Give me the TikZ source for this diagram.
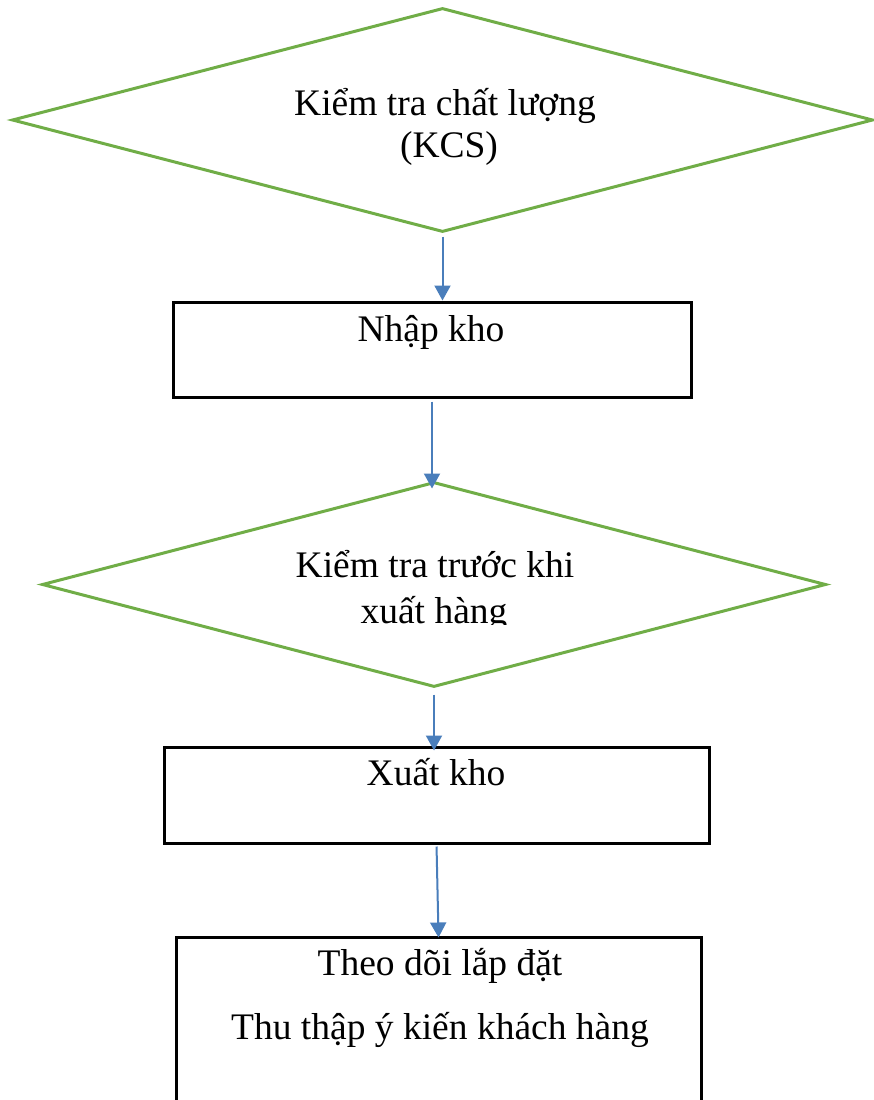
\documentclass[tikz,border=0pt]{standalone}
\usepackage{fontspec}
\setmainfont{Liberation Serif}
\usepackage{tikz}
\usetikzlibrary{shapes.geometric}
\usetikzlibrary{positioning}
\usetikzlibrary{arrows.meta}
\definecolor{kgreen}{HTML}{70AD47}
\definecolor{kblue}{HTML}{4A7EBB}

\begin{document}
\begin{tikzpicture}[x=1pt, y=-1pt, >={Triangle[length=15pt,width=16pt]},
        check/.style={diamond, draw=kgreen, line width=3pt, inner sep=0pt},
        block/.style={rectangle, draw=black, line width=3pt},
        txt/.style={anchor=base, inner sep=0pt, font=\fontsize{37.5}{46}\selectfont},
        flow/.style={->, draw=kblue, line width=2pt}]
        \clip (0,0) rectangle (874,1100);

        \node[check, minimum width=861pt, minimum height=224pt] (kcs) at (442.5,120) {};
        \node[block, minimum width=518pt, minimum height=95pt] (nhapkho) at (432,349.5) {};
        \node[check, minimum width=784pt, minimum height=205pt] (ktxh) at (434,584.5) {};
        \node[block, minimum width=545pt, minimum height=96pt] (xuatkho) at (436.5,795) {};
        \node[block, minimum width=525pt, minimum height=200pt] (theodoi) at (438.5,1037) {};

        \node[txt] (kcs1) at (445,115) {Kiểm tra chất lượng};
        \node[txt] (kcs2) at (449,157) {(KCS)};
        \node[txt] (nhapkhot) at (431,341) {Nhập kho};
        \begin{scope}
            \clip (0,480) rectangle (874,624);
            \node[txt] (ktxh1) at (435,577) {Kiểm tra trước khi};
            \node[txt] (ktxh2) at (434,623) {xuất hàng};
        \end{scope}
        \node[txt] (xuatkhot) at (436,785) {Xuất kho};
        \node[txt] (theodoi1) at (440,975) {Theo dõi lắp đặt};
        \node[txt] (theodoi2) at (440,1039) {Thu thập ý kiến khách hàng};

        \draw[flow, shorten <=3pt] (kcs.south) -- (kcs.south |- nhapkho.north);
        \draw[flow, shorten <=3pt, shorten >=-8pt] (nhapkho.south) -- (nhapkho.south |- ktxh.north);
        \draw[flow, shorten <=6pt, shorten >=-5pt] (ktxh.south) -- (ktxh.south |- xuatkho.north);
        \draw[flow, shorten <=2pt, shorten >=-2pt] (xuatkho.south) -- (theodoi.north);
    \end{tikzpicture}
\end{document}
